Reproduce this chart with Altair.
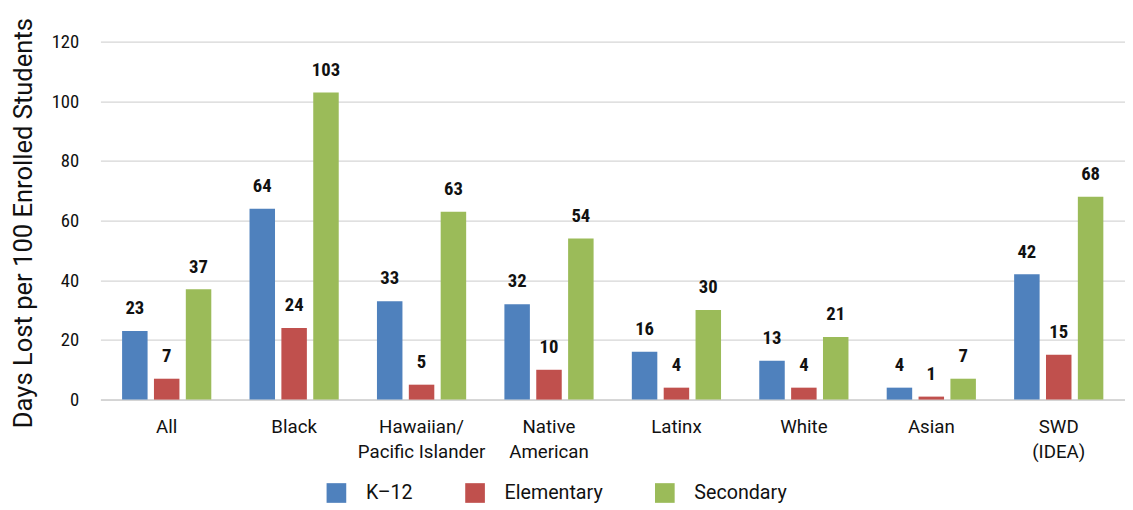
import altair as alt
import pandas as pd

groups = ["All", "Black", "Hawaiian/|Pacific Islander", "Native|American", "Latinx", "White", "Asian", "SWD|(IDEA)"]
series = ["K–12", "Elementary", "Secondary"]
k12 = [23, 64, 33, 32, 16, 13, 4, 42]
elem = [7, 24, 5, 10, 4, 4, 1, 15]
sec = [37, 103, 63, 54, 30, 21, 7, 68]
colors = ["#4F81BD", "#C0504D", "#9BBB59"]

COND = "'Roboto Condensed', 'DejaVu Sans Condensed', 'Liberation Sans Narrow', 'Arial Narrow', Roboto, sans-serif"

rows = []
for i, g in enumerate(groups):
    for s, vals in zip(series, [k12, elem, sec]):
        rows.append({"group": g, "series": s, "value": vals[i]})
df = pd.DataFrame(rows)

x = alt.X("group:N", sort=groups, title=None,
          scale=alt.Scale(paddingInner=0.3, paddingOuter=0.17),
          axis=alt.Axis(labelExpr="split(datum.label, '|')", labelAngle=0,
                        labelFont="Roboto", labelFontSize=19, labelColor="#111",
                        labelPadding=18, ticks=False, domainColor="#d0d0d0",
                        domainWidth=1.5, labelLineHeight=26, grid=False))
xo = alt.XOffset("series:N", sort=series, scale=alt.Scale(paddingInner=0.2))
y = alt.Y("value:Q", title="Days Lost per 100 Enrolled Students",
          scale=alt.Scale(domain=[0, 120]),
          axis=alt.Axis(values=[0, 20, 40, 60, 80, 100, 120], domain=False, ticks=False,
                        grid=True, gridColor="#d6d6d6", gridWidth=1.2,
                        labelFont=COND, labelFontSize=19, labelColor="#111",
                        labelPadding=22, titleFont="Roboto", titleFontSize=26,
                        titleFontWeight="normal", titleColor="#111",
                        titleX=-78, titleY=184, titleAlign="center", titleBaseline="middle",
                        titleAngle=270))

bars = alt.Chart(df).mark_bar().encode(
    x=x, xOffset=xo, y=y,
    color=alt.Color("series:N", sort=series,
                    scale=alt.Scale(domain=series, range=colors),
                    legend=alt.Legend(title=None, orient="none", direction="horizontal",
                                      legendX=230, legendY=449,
                                      symbolType="square", symbolSize=400, symbolStrokeWidth=0,
                                      labelFont="Roboto", labelFontSize=20, labelColor="#111",
                                      columnPadding=53, labelOffset=20))
)
text = alt.Chart(df).mark_text(baseline="bottom", dy=-13, font=COND,
                               fontSize=19, fontWeight="bold", color="#111").encode(
    x=alt.X("group:N", sort=groups), xOffset=xo, y="value:Q", text="value:Q")

chart = alt.layer(bars, text).properties(
    width=1042, height=364,
    autosize=alt.AutoSizeParams(type="none"),
    padding={"left": 94, "top": 30, "right": 0, "bottom": 106}
).configure_view(stroke=None)

chart.save("out.html", embed_options={"renderer": "svg", "actions": False})
